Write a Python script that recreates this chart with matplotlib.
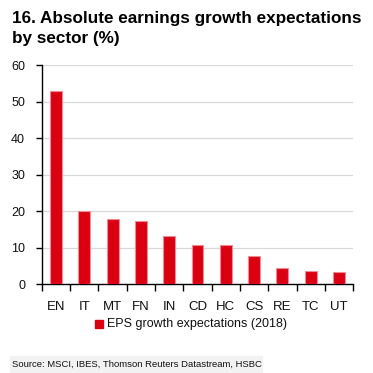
import matplotlib
matplotlib.use('Agg')
from matplotlib import pyplot as plt
from matplotlib.patches import Rectangle
import numpy as np

plt.rcParams['font.family'] = ['Liberation Sans', 'DejaVu Sans']

# data
sectors = ['EN', 'IT', 'MT', 'FN', 'IN', 'CD', 'HC', 'CS', 'RE', 'TC', 'UT']
eps_growth = [53.0, 20.2, 17.9, 17.3, 13.3, 10.8, 10.7, 7.8, 4.5, 3.6, 3.4]
y_ticks = [0, 10, 20, 30, 40, 50, 60]

red = '#DB0011'
edge = '#F08A96'

fig = plt.figure(figsize=(3.73, 3.73), dpi=100)
ax = fig.add_axes([0.112, 0.238, 0.835, 0.587])

x = np.arange(len(sectors))
ax.bar(x, eps_growth, width=0.42, color=red, edgecolor=edge, linewidth=0.8, zorder=3)

ax.set_xlim(-0.5, len(sectors) - 0.5)
ax.set_ylim(0, 60)
ax.set_yticks(y_ticks)
ax.set_yticklabels([str(v) for v in y_ticks], fontsize=9, color='#111111')
ax.yaxis.grid(True, color='#d9d9d9', linewidth=0.9, zorder=0)
ax.set_axisbelow(True)

# category labels centred, tick marks on the boundaries
ax.set_xticks(x)
ax.set_xticklabels(sectors, fontsize=9.5, color='#111111')
ax.tick_params(axis='x', length=0, pad=12)
ax.set_xticks(np.arange(-0.5, len(sectors)), minor=True)
ax.tick_params(axis='x', which='minor', length=5, width=1, color='black', direction='out')
ax.tick_params(axis='y', length=4, width=1, color='black', direction='out', pad=8)

for s in ['top', 'right']:
    ax.spines[s].set_visible(False)
ax.spines['left'].set_color('black')
ax.spines['bottom'].set_color('black')
ax.spines['left'].set_linewidth(1)
ax.spines['bottom'].set_linewidth(1)

fig.text(0.032, 0.970, '16. Absolute earnings growth expectations\nby sector (%)',
         fontsize=12.3, fontweight='bold', va='top', ha='left', linespacing=1.42, color='black')

# legend
fig.patches.append(Rectangle((95 / 373, 1 - 328 / 373), 8 / 373, 8 / 373,
                             transform=fig.transFigure, color=red, figure=fig))
fig.text(107 / 373, 1 - 324 / 373, 'EPS growth expectations (2018)',
         fontsize=9, va='center', ha='left', color='#111111')

# source footer
fig.patches.append(Rectangle((10 / 373, 1 - 372 / 373), 252 / 373, 16 / 373,
                             transform=fig.transFigure, color='#f2f2f2', figure=fig))
fig.text(12 / 373, 1 - 364 / 373, 'Source: MSCI, IBES, Thomson Reuters Datastream, HSBC',
         fontsize=6.8, va='center', ha='left', color='#111111')

fig.savefig('out.png', dpi=100)
